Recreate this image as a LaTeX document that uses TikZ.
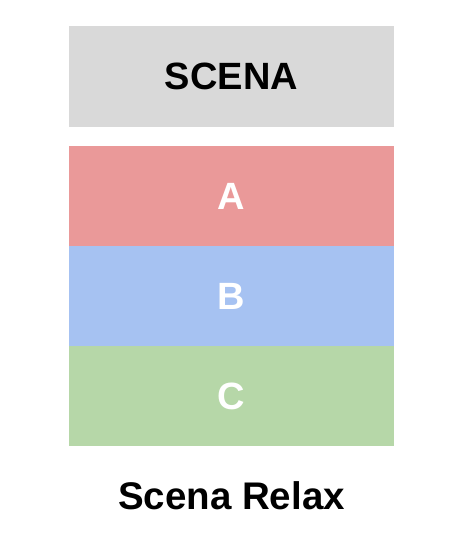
\documentclass[tikz,border=0pt]{standalone}
\usepackage{fontspec}
\setmainfont{Liberation Sans}
\usetikzlibrary{positioning}
\tikzset{>=latex}
\tikzset{zone/.style={minimum width=325pt, minimum height=100pt, inner sep=0pt, outer sep=0pt, font=\fontsize{38}{40}\selectfont\bfseries}}

\begin{document}
\begin{tikzpicture}[x=1pt, y=-1pt]
    \useasboundingbox(0, 0)rectangle(455, 534);
    \definecolor{scenagray}{HTML}{D9D9D9}
    \definecolor{zonea}{HTML}{EA9999}
    \definecolor{zoneb}{HTML}{A6C2F2}
    \definecolor{zonec}{HTML}{B6D7A8}
    \node[zone, fill=scenagray, minimum height=101pt](scena)at(231.5, 76.5){SCENA};
    \node[zone, fill=zonea, text=white](A)at(231.5, 196){A};
    \node[zone, fill=zoneb, text=white, below=0pt of A](B){B};
    \node[zone, fill=zonec, text=white, below=0pt of B](C){C};
    \node[font=\fontsize{38.5}{40}\selectfont\bfseries](title)at(231.5, 496){Scena Relax};
\end{tikzpicture}
\end{document}
